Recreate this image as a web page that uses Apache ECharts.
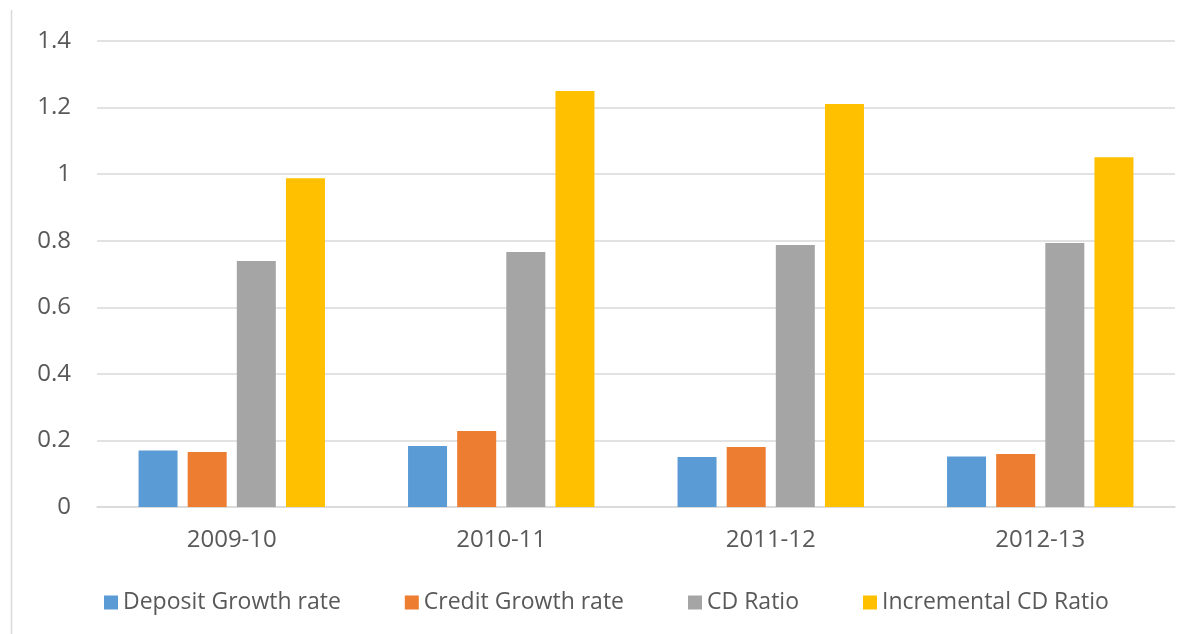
<!DOCTYPE html>
<html lang="en">

<head>
    <meta charset="UTF-8">
    <script type="text/javascript" src="https://cdn.jsdelivr.net/npm/echarts@6.0.0/dist/echarts.min.js"></script>
    <title>Deposit / Credit growth and CD ratio</title>
    <style>
        html, body { margin: 0; padding: 0; background: #fff; }
        #chart { width: 1195px; height: 634px; }
    </style>
</head>

<body>
    <div id="chart"></div>

    <script>
        // data
        const years = ['2009-10', '2010-11', '2011-12', '2012-13'];
        const depositGrowth = [0.17, 0.183, 0.15, 0.152];
        const creditGrowth = [0.165, 0.228, 0.18, 0.159];
        const cdRatio = [0.739, 0.766, 0.787, 0.793];
        const incrementalCd = [0.988, 1.25, 1.211, 1.051];

        const font = '"Open Sans", "Noto Sans", sans-serif';
        const textColor = '#595959';

        const chart = echarts.init(document.getElementById('chart'), null, { renderer: 'canvas' });

        function bar(name, data, color) {
            return {
                name: name,
                type: 'bar',
                data: data,
                barWidth: 39,
                barGap: '26%',
                itemStyle: { color: color }
            };
        }

        chart.setOption({
            animation: false,
            textStyle: { fontFamily: font },
            grid: { left: 97, right: 20, top: 41, bottom: 127, containLabel: false },
            xAxis: {
                type: 'category',
                data: years,
                axisLine: { lineStyle: { color: '#d9d9d9', width: 1.5 } },
                axisTick: { show: false },
                axisLabel: { color: textColor, fontSize: 24, fontFamily: font, margin: 21 }
            },
            yAxis: {
                type: 'value',
                min: 0,
                max: 1.4,
                interval: 0.2,
                axisLine: { show: false },
                axisTick: { show: false },
                splitLine: { lineStyle: { color: '#d9d9d9', width: 1.5 } },
                axisLabel: {
                    color: textColor, fontSize: 24, fontFamily: font, margin: 26,
                    formatter: v => String(Math.round(v * 10) / 10)
                }
            },
            legend: {
                top: 586,
                left: 99,
                itemWidth: 14,
                itemHeight: 14,
                itemGap: 64,
                icon: 'rect',
                textStyle: { color: textColor, fontSize: 23, fontFamily: font },
                data: ['Deposit Growth rate', 'Credit Growth rate', 'CD Ratio', 'Incremental CD Ratio']
            },
            graphic: [{
                type: 'line',
                shape: { x1: 11.5, y1: 10, x2: 11.5, y2: 634 },
                style: { stroke: '#d9d9d9', lineWidth: 1.5 }
            }],
            series: [
                bar('Deposit Growth rate', depositGrowth, '#5b9bd5'),
                bar('Credit Growth rate', creditGrowth, '#ed7d31'),
                bar('CD Ratio', cdRatio, '#a5a5a5'),
                bar('Incremental CD Ratio', incrementalCd, '#ffc000')
            ]
        });
    </script>
</body>

</html>
